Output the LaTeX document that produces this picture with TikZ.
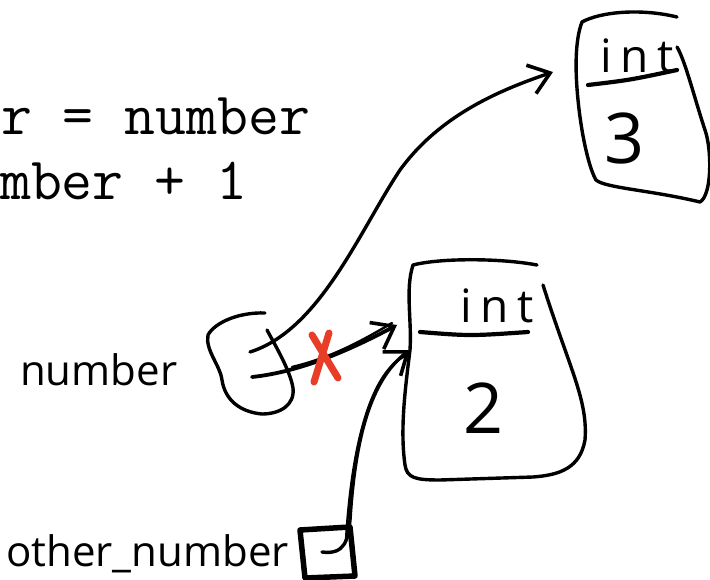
\documentclass[tikz,border=0pt]{standalone}
\usepackage{fontspec}
\newfontfamily\hand{Open Sans}
\usetikzlibrary{arrows.meta}
\definecolor{xred}{RGB}{232,62,40}
\tikzset{
  ink/.style={line width=3.4pt, line cap=round, line join=round},
  thin ink/.style={line width=2.4pt, line cap=round, line join=round},
  conn/.style={ink, -{Straight Barb[length=20pt,width=30pt,line width=3.6pt]}},
  code/.style={font=\ttfamily\fontsize{60}{60}\selectfont, inner sep=0, anchor=base west},
  handlbl/.style={font=\hand\fontsize{42}{42}\selectfont, inner sep=0, anchor=base west},
  inttxt/.style={font=\hand\fontsize{46}{46}\selectfont\addfontfeature{LetterSpace=18}, inner sep=0},
  digit/.style={font=\hand\fontsize{70}{70}\selectfont, inner sep=0},
}
\begin{document}
\begin{tikzpicture}[x=1pt,y=-1pt]
\useasboundingbox[fill=white] (0,0) rectangle (710,580);
% code text
\node[code] (line1) at (1,135) {r = number};
\node[code] (line2) at (0,200) {mber + 1};
% labels
\node[handlbl] (numlbl) at (20,385) {number};
\node[handlbl] (othlbl) at (6,566) {other\_number};
% blob for number
\draw[ink] (265,313) .. controls (240,312) and (215,322) .. (208,335)
  .. controls (205,350) and (220,365) .. (222,380)
  .. controls (225,400) and (240,412) .. (262,414)
  .. controls (280,414) and (295,405) .. (293,388)
  .. controls (290,370) and (275,345) .. (267,330);
% other_number box
\draw[line width=5.5pt, line join=round] (300,530) -- (350,527) -- (355,576) -- (305,578) -- cycle;
% box int 2
\draw[ink] (537,265) .. controls (500,258) and (440,258) .. (413,265)
  .. controls (405,290) and (412,320) .. (410,350)
  .. controls (405,390) and (400,430) .. (405,465)
  .. controls (407,478) and (415,480) .. (440,480) -- (533,477)
  .. controls (560,475) and (580,468) .. (585,440)
  .. controls (588,400) and (570,370) .. (543,285);
\draw[ink, line width=4.2pt] (420,332) .. controls (470,336) .. (528,332);
\node[inttxt] (int2) at (497,306) {int};
\node[digit] (val2) at (484,408) {2};
% box int 3
\draw[ink] (677,17) .. controls (640,8) and (600,12) .. (582,22)
  .. controls (575,40) and (575,70) .. (578,100)
  .. controls (582,140) and (590,170) .. (596,180)
  .. controls (605,188) and (650,190) .. (700,202)
  .. controls (712,195) and (712,150) .. (705,130)
  .. controls (695,100) and (685,60) .. (677,47);
\draw[ink, line width=4.2pt] (588,85) .. controls (630,80) .. (677,70);
\node[inttxt] (int3) at (637,56) {int};
\node[digit] (val3) at (625,138) {3};
% connector end points
\coordinate (s1) at (250,352);
\coordinate (t1) at (553,72);
\coordinate (s2) at (252,377);
\coordinate (t2) at (397,325);
\coordinate (s3) at (322,552);
\coordinate (t3) at (410,350);
% arrows
\draw[conn] (s1) .. controls (320,330) and (360,230) .. (400,170)
  .. controls (440,115) and (500,90) .. (t1);
\draw[conn, line width=3.8pt] (s2) .. controls (300,372) and (350,350) .. (t2);
\draw[thin ink] (292,367) .. controls (330,358) and (360,342) .. (392,323);
\draw[conn] (s3) .. controls (345,555) and (348,540) .. (350,520)
  .. controls (355,440) and (370,380) .. (t3);
\draw[thin ink] (346,540) .. controls (352,440) and (372,372) .. (405,356);
% red cross
\draw[xred, line width=7pt, line cap=round] (312,335) -- (338,378);
\draw[xred, line width=7pt, line cap=round] (329,333) -- (314,382);
\end{tikzpicture}
\end{document}
